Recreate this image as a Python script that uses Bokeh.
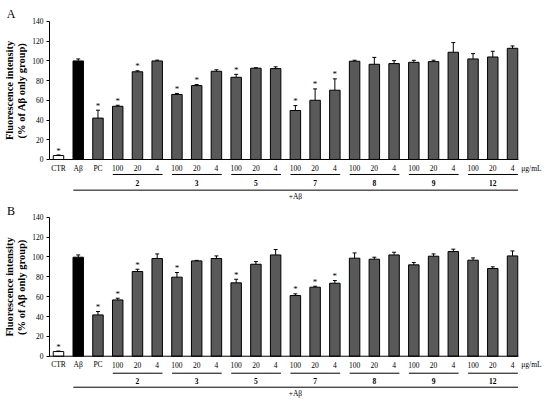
from bokeh.plotting import figure
from bokeh.layouts import column
from bokeh.models import Range1d, FixedTicker, ColumnDataSource
from bokeh.core.properties import value
from bokeh.embed import file_html
from bokeh.resources import INLINE

# ---- data ----
categories = ["CTR", "Aβ", "PC"] + ["100", "20", "4"] * 7
groups = ["2", "3", "5", "7", "8", "9", "12"]
yticks = [0, 20, 40, 60, 80, 100, 120, 140]

a_values = [4, 100, 42, 54, 89, 100, 66, 75, 89.5, 83.4, 92.6, 92.2,
            49.7, 60.1, 70.3, 99.7, 96.6, 97.3, 98.6, 99.3, 108.8, 102, 104, 112.8]
a_errors = [0.6, 2, 8, 1, 1, 0.8, 1, 1, 1.5, 3, 0.5, 1.8,
            5, 11.5, 11.5, 1, 7, 3, 2, 1.4, 9.8, 5.4, 5.8, 2.4]
a_signif = [1, 0, 1, 1, 1, 0, 1, 1, 0, 1, 0, 0, 1, 1, 1, 0, 0, 0, 0, 0, 0, 0, 0, 0]

b_values = [4.7, 99.7, 41.6, 56.7, 85.3, 98.4, 79.6, 96, 98.4, 73.9, 92.6, 102,
            61.1, 69.5, 73.5, 98.7, 97.7, 102, 92, 100.7, 105.4, 96.7, 88.3, 101]
b_errors = [0.5, 2.3, 3.4, 1.7, 2.3, 4.6, 4.7, 0.5, 2.6, 3.6, 2.7, 5.4,
            1.7, 1, 2.7, 5.3, 2, 2.7, 2.3, 2.3, 2.4, 2.3, 1.7, 5]
b_signif = [1, 0, 1, 1, 1, 0, 1, 0, 0, 1, 0, 0, 1, 1, 1, 0, 0, 0, 0, 0, 0, 0, 0, 0]

FONT = "Liberation Serif"
GRAY = "#595959"
YAXIS_POS = -0.456


def make_panel(letter, vals, errs, sig, height, y0, y1, ylet, ylab, yline1, ynum, yline2, yab):
    p = figure(width=550, height=height,
               x_range=Range1d(-2.938, 24.924), y_range=Range1d(y0, y1),
               output_backend="svg", toolbar_location=None,
               x_axis_location=None,
               min_border_left=0, min_border_right=0,
               min_border_top=0, min_border_bottom=0)
    p.outline_line_color = None
    p.grid.visible = False
    p.background_fill_color = "white"

    n = len(vals)
    xs = list(range(n))
    colors = ["white", "black"] + [GRAY] * (n - 2)
    tops = [v + e for v, e in zip(vals, errs)]

    src = ColumnDataSource(dict(x=xs, top=vals, color=colors, etop=tops,
                                cl=[x - 0.1 for x in xs], cr=[x + 0.1 for x in xs]))
    p.vbar(x="x", top="top", bottom=0, width=0.53, fill_color="color",
           line_color="black", line_width=1, source=src)
    p.segment(x0="x", y0="top", x1="x", y1="etop", line_color="black", line_width=1, source=src)
    p.segment(x0="cl", y0="etop", x1="cr", y1="etop", line_color="black", line_width=1, source=src)

    sx = [x for x, s in zip(xs, sig) if s]
    sy = [t + 4.5 for t, s in zip(tops, sig) if s]
    p.text(x=sx, y=sy, text=["*"] * len(sx), text_font=value(FONT), text_color="black",
           text_font_size="9px", text_align="center", text_baseline="middle")

    # baseline
    p.segment(x0=[YAXIS_POS], y0=[0], x1=[n - 1 + 0.3], y1=[0], line_color="black", line_width=1)

    # category labels
    p.text(x=xs, y=[ylab] * n, text=categories, text_font=value(FONT), text_color="black",
           text_font_size="7.5px", text_align="center", text_baseline="middle")
    p.text(x=[n - 0.04], y=[ylab], text=["μg/mL"], text_font=value(FONT), text_color="black",
           text_font_size="7.5px", text_align="center", text_baseline="middle")

    # group lines + numbers
    gx0 = [3 + 3 * i - 0.25 for i in range(len(groups))]
    gx1 = [5 + 3 * i + 0.27 for i in range(len(groups))]
    gc = [4 + 3 * i for i in range(len(groups))]
    p.segment(x0=gx0, y0=[yline1] * len(groups), x1=gx1, y1=[yline1] * len(groups),
              line_color="black", line_width=1)
    p.text(x=gc, y=[ynum] * len(groups), text=groups, text_font=value(FONT), text_color="black",
           text_font_size="7.5px", text_font_style="bold", text_align="center",
           text_baseline="middle")

    # +Aβ line
    p.segment(x0=[1 - 0.25], y0=[yline2], x1=[n - 1 + 0.28], y1=[yline2],
              line_color="black", line_width=1)
    p.text(x=[(1 + n - 1) / 2], y=[yab], text=["+Aβ"], text_font=value(FONT), text_color="black",
           text_font_size="7.5px", text_align="center", text_baseline="middle")

    # panel letter
    p.text(x=[-2.4], y=[ylet], text=[letter], text_font=value(FONT), text_color="black",
           text_font_size="12px", text_align="center", text_baseline="middle")

    # y axis (drawn at a fixed data location so the frame spans the whole figure)
    ax = p.yaxis[0]
    ax.fixed_location = YAXIS_POS
    ax.bounds = (0, 140)
    ax.ticker = FixedTicker(ticks=yticks)
    ax.minor_tick_line_color = None
    ax.major_tick_in = 0
    ax.major_tick_out = 3
    ax.major_label_standoff = 3
    ax.major_label_text_font = FONT
    ax.major_label_text_font_size = "7.5px"
    ax.major_label_text_color = "black"
    ax.axis_line_color = "black"
    ax.axis_label = "Fluorescence intensity\n(% of Aβ only group)"
    ax.axis_label_text_font = FONT
    ax.axis_label_text_font_style = "bold"
    ax.axis_label_text_font_size = "10.5px"
    ax.axis_label_text_line_height = 1.1
    ax.axis_label_text_color = "black"
    ax.axis_label_standoff = 2
    return p


pa = make_panel("A", a_values, a_errors, a_signif, 200, -41.6, 161.3,
                148.0, -9.1, -15.2, -24.3, -31.1, -37.9)
pb = make_panel("B", b_values, b_errors, b_signif, 203, -47.6, 156.8,
                145.9, -8.4, -17.1, -24.5, -31.2, -37.9)

layout = column(pa, pb, spacing=0)
open("out.html", "w").write(file_html(layout, INLINE))
